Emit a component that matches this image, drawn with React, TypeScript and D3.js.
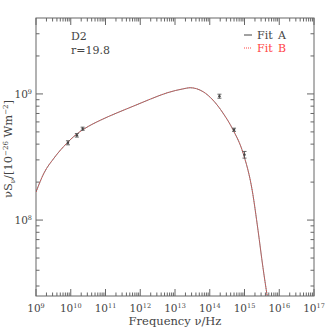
import React from 'react'
import * as d3 from 'd3'

const width = 332
const height = 332
const margin = { left: 36, right: 18, top: 18, bottom: 36 }

// fit curve (nu in Hz, nuS_nu in 1e-26 W m^-2)
const fitNu = [1e9, 1.7e9, 3.3e9, 7.8e9, 1.5e10, 2.4e10, 7.4e10, 2.1e11, 6.6e11, 2.0e12, 5.9e12, 1.8e13, 2.7e13, 6.5e13, 1.23e14, 2.4e14, 4.7e14, 9.1e14, 1.66e15, 2.45e15, 3.4e15, 4.5e15]
const fitAS = [1.67e8, 2.36e8, 3.1e8, 4.08e8, 4.82e8, 5.27e8, 6.22e8, 7.06e8, 8.04e8, 9.12e8, 1.02e9, 1.1e9, 1.12e9, 1.04e9, 8.95e8, 7.06e8, 5.18e8, 3.4e8, 1.73e8, 8.3e7, 4.2e7, 2.5e7]
const fitBS = [1.67e8, 2.36e8, 3.1e8, 4.08e8, 4.82e8, 5.27e8, 6.22e8, 7.06e8, 8.04e8, 9.12e8, 1.02e9, 1.1e9, 1.12e9, 1.04e9, 8.95e8, 7.06e8, 5.18e8, 3.4e8, 1.73e8, 8.3e7, 4.2e7, 2.5e7]

// observed points
const obsNu = [8.3e9, 1.5e10, 2.2e10, 1.9e14, 5.0e14, 1.0e15]
const obsS = [4.1e8, 4.7e8, 5.3e8, 9.6e8, 5.2e8, 3.3e8]
const obsErr = [1.5e7, 1.5e7, 1.5e7, 3.5e7, 1.5e7, 2.0e7]

const xExps = [9, 10, 11, 12, 13, 14, 15, 16, 17]
const yExps = [8, 9]

const font = 'DejaVu Serif, serif'
const ink = '#444'

const x = d3.scaleLog().domain([1e9, 1e17]).range([margin.left, width - margin.right])
const y = d3.scaleLog().domain([2.5e7, 4e9]).range([height - margin.bottom, margin.top])

const line = d3.line<[number, number]>()
  .x(d => x(d[0]))
  .y(d => y(d[1]))
  .curve(d3.curveMonotoneX)

const minorX: number[] = []
for (let e = 9; e < 17; e++) for (let m = 2; m <= 9; m++) minorX.push(m * 10 ** e)
const minorY: number[] = []
for (let e = 7; e <= 9; e++) for (let m = 2; m <= 9; m++) {
  const v = m * 10 ** e
  if (v > 2.5e7 && v < 4e9) minorY.push(v)
}

export default function App() {
  const x0 = margin.left, x1 = width - margin.right
  const y0 = margin.top, y1 = height - margin.bottom
  const major = 7, minor = 3.5
  return (
    <svg width={width} height={height} style={{ position: 'absolute', left: 0, top: 0, background: '#fff' }}>
      <defs>
        <clipPath id="plot">
          <rect x={x0} y={y0} width={x1 - x0} height={y1 - y0} />
        </clipPath>
      </defs>
      <g stroke="#666" strokeWidth={1} fill="none">
        <rect x={x0} y={y0} width={x1 - x0} height={y1 - y0} />
        {xExps.map(e => (
          <g key={'mx' + e}>
            <line x1={x(10 ** e)} x2={x(10 ** e)} y1={y1} y2={y1 - major} />
            <line x1={x(10 ** e)} x2={x(10 ** e)} y1={y0} y2={y0 + major} />
          </g>
        ))}
        {minorX.map(v => (
          <g key={'nx' + v}>
            <line x1={x(v)} x2={x(v)} y1={y1} y2={y1 - minor} />
            <line x1={x(v)} x2={x(v)} y1={y0} y2={y0 + minor} />
          </g>
        ))}
        {yExps.map(e => (
          <g key={'my' + e}>
            <line x1={x0} x2={x0 + major} y1={y(10 ** e)} y2={y(10 ** e)} />
            <line x1={x1} x2={x1 - major} y1={y(10 ** e)} y2={y(10 ** e)} />
          </g>
        ))}
        {minorY.map(v => (
          <g key={'ny' + v}>
            <line x1={x0} x2={x0 + minor} y1={y(v)} y2={y(v)} />
            <line x1={x1} x2={x1 - minor} y1={y(v)} y2={y(v)} />
          </g>
        ))}
      </g>

      <g clipPath="url(#plot)" fill="none">
        <path d={line(fitNu.map((n, i) => [n, fitAS[i]]) as [number, number][]) || ''} stroke="#555" strokeWidth={0.8} />
        <path d={line(fitNu.map((n, i) => [n, fitBS[i]]) as [number, number][]) || ''} stroke="#f44" strokeWidth={0.8} strokeDasharray="1,1" />
      </g>

      <g stroke="#555" strokeWidth={0.9}>
        {obsNu.map((n, i) => {
          const cx = x(n)
          const ya = y(obsS[i] + obsErr[i]), yb = y(obsS[i] - obsErr[i])
          return (
            <g key={'o' + i}>
              <line x1={cx} x2={cx} y1={ya} y2={yb} />
              <line x1={cx - 2} x2={cx + 2} y1={ya} y2={ya} />
              <line x1={cx - 2} x2={cx + 2} y1={yb} y2={yb} />
              <circle cx={cx} cy={y(obsS[i])} r={1.2} fill="#444" stroke="none" />
            </g>
          )
        })}
      </g>

      <g fontFamily={font} fill={ink} fontSize={10.5}>
        {xExps.map(e => (
          <text key={'lx' + e} x={x(10 ** e)} y={y1 + 16} textAnchor="middle">
            10<tspan dy={-4} fontSize={6.5}>{e}</tspan>
          </text>
        ))}
        {yExps.map(e => (
          <text key={'ly' + e} x={x0 - 4} y={y(10 ** e) + 4} textAnchor="end">
            10<tspan dy={-4} fontSize={6.5}>{e}</tspan>
          </text>
        ))}
        <text x={175} y={325} textAnchor="middle" fontSize={11.5}>Frequency ν/Hz</text>
        <text transform="translate(12,149) rotate(-90)" textAnchor="middle" fontSize={11.5}>
          νS<tspan dy={3} fontSize={7}>ν</tspan><tspan dy={-3}>/[10</tspan><tspan dy={-4} fontSize={7}>−26</tspan><tspan dy={4}> Wm</tspan><tspan dy={-4} fontSize={7}>−2</tspan><tspan dy={4}>]</tspan>
        </text>
        <text x={71} y={40} fontSize={11}>D2</text>
        <text x={71} y={54} fontSize={11}>r=19.8</text>
        <line x1={244} x2={252} y1={35} y2={35} stroke="#444" />
        <text x={257} y={39} fontSize={11} wordSpacing={2}>Fit A</text>
        <line x1={244} x2={252} y1={48} y2={48} stroke="#f44" strokeDasharray="1,1" />
        <text x={257} y={52} fontSize={11} fill="#f44" wordSpacing={2}>Fit B</text>
      </g>
    </svg>
  )
}
